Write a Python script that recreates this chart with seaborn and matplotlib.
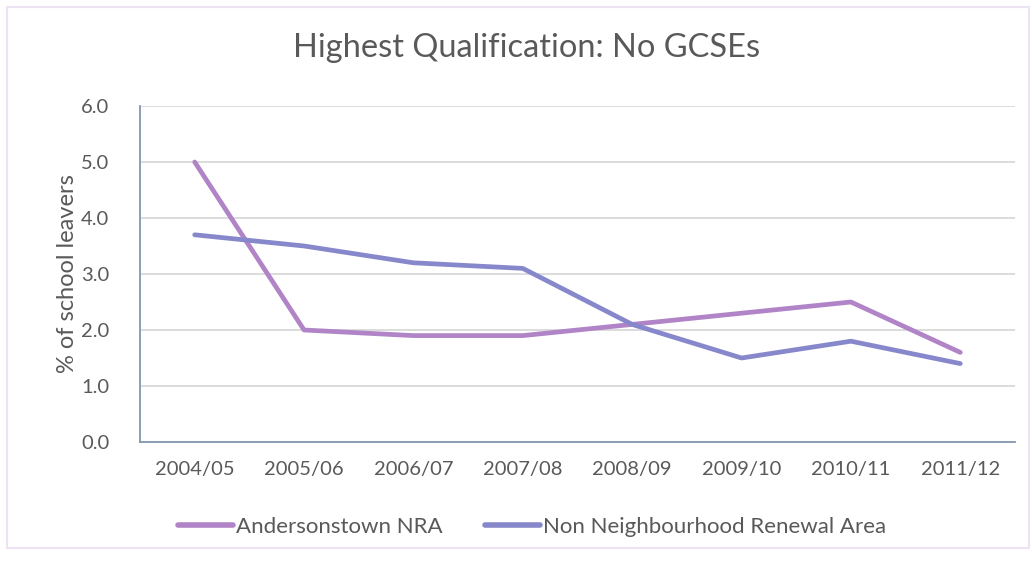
import matplotlib
matplotlib.use("Agg")
import matplotlib.pyplot as plt
import seaborn as sns
import pandas as pd
from matplotlib.patches import Rectangle
from matplotlib.lines import Line2D

years = ["2004/05", "2005/06", "2006/07", "2007/08", "2008/09", "2009/10", "2010/11", "2011/12"]
andersonstown = [5.0, 2.0, 1.9, 1.9, 2.1, 2.3, 2.5, 1.6]
non_nra = [3.7, 3.5, 3.2, 3.1, 2.1, 1.5, 1.8, 1.4]
series_names = ["Andersonstown NRA", "Non Neighbourhood Renewal Area"]
colors = ["#B084C6", "#8787CB"]
yticks = [0.0, 1.0, 2.0, 3.0, 4.0, 5.0, 6.0]

df = pd.DataFrame({
    "year": years * 2,
    "pos": list(range(len(years))) * 2,
    "value": andersonstown + non_nra,
    "series": [series_names[0]] * len(years) + [series_names[1]] * len(years),
})

sns.set_theme(style="white")
plt.rcParams["font.family"] = ["Lato", "DejaVu Sans"]

fig = plt.figure(figsize=(10.32, 5.61), dpi=100)
ax = fig.add_axes([140 / 1032, 1 - 442 / 561, (1015 - 140) / 1032, (442 - 106) / 561])

sns.lineplot(data=df, x="pos", y="value", hue="series", palette=colors,
             linewidth=3.4, ax=ax, legend=False, solid_capstyle="round")

ax.set_xlim(-0.5, len(years) - 0.5)
ax.set_ylim(0, 6)
ax.set_xticks(range(len(years)))
ax.set_xticklabels(years)
ax.set_yticks(yticks)
ax.set_yticklabels([f"{v:.1f}" for v in yticks])
ax.tick_params(axis="both", labelsize=14.5, colors="#595959", length=0)
ax.tick_params(axis="x", pad=14)
ax.tick_params(axis="y", pad=22)
ax.yaxis.grid(True, color="#D9D9D9", linewidth=1.3)
ax.set_axisbelow(True)
for s in ["top", "right"]:
    ax.spines[s].set_visible(False)
for s in ["left", "bottom"]:
    ax.spines[s].set_color("#8497B0")
    ax.spines[s].set_linewidth(1.3)
ax.set_xlabel("")
ax.set_ylabel("% of school leavers", fontsize=17, color="#595959", labelpad=2)

fig.text(0.51, 1 - 48 / 561, "Highest Qualification: No GCSEs", ha="center", va="center",
         fontsize=23.5, color="#595959")

handles = [Line2D([0], [0], color=c, linewidth=4, solid_capstyle="round") for c in colors]
fig.legend(handles, series_names, loc="center", bbox_to_anchor=(0.5155, 1 - 527 / 561),
           ncol=2, frameon=False, fontsize=16, handlelength=2.5, handletextpad=0.12,
           columnspacing=1.9, labelcolor="#595959")

# subtle frame
fig.patches.append(Rectangle((7 / 1032, 13 / 561), 1 - 10 / 1032, 1 - 20 / 561,
                             transform=fig.transFigure, fill=False,
                             edgecolor="#EDE3F3", linewidth=1.5))

fig.savefig("out.png", dpi=100)
